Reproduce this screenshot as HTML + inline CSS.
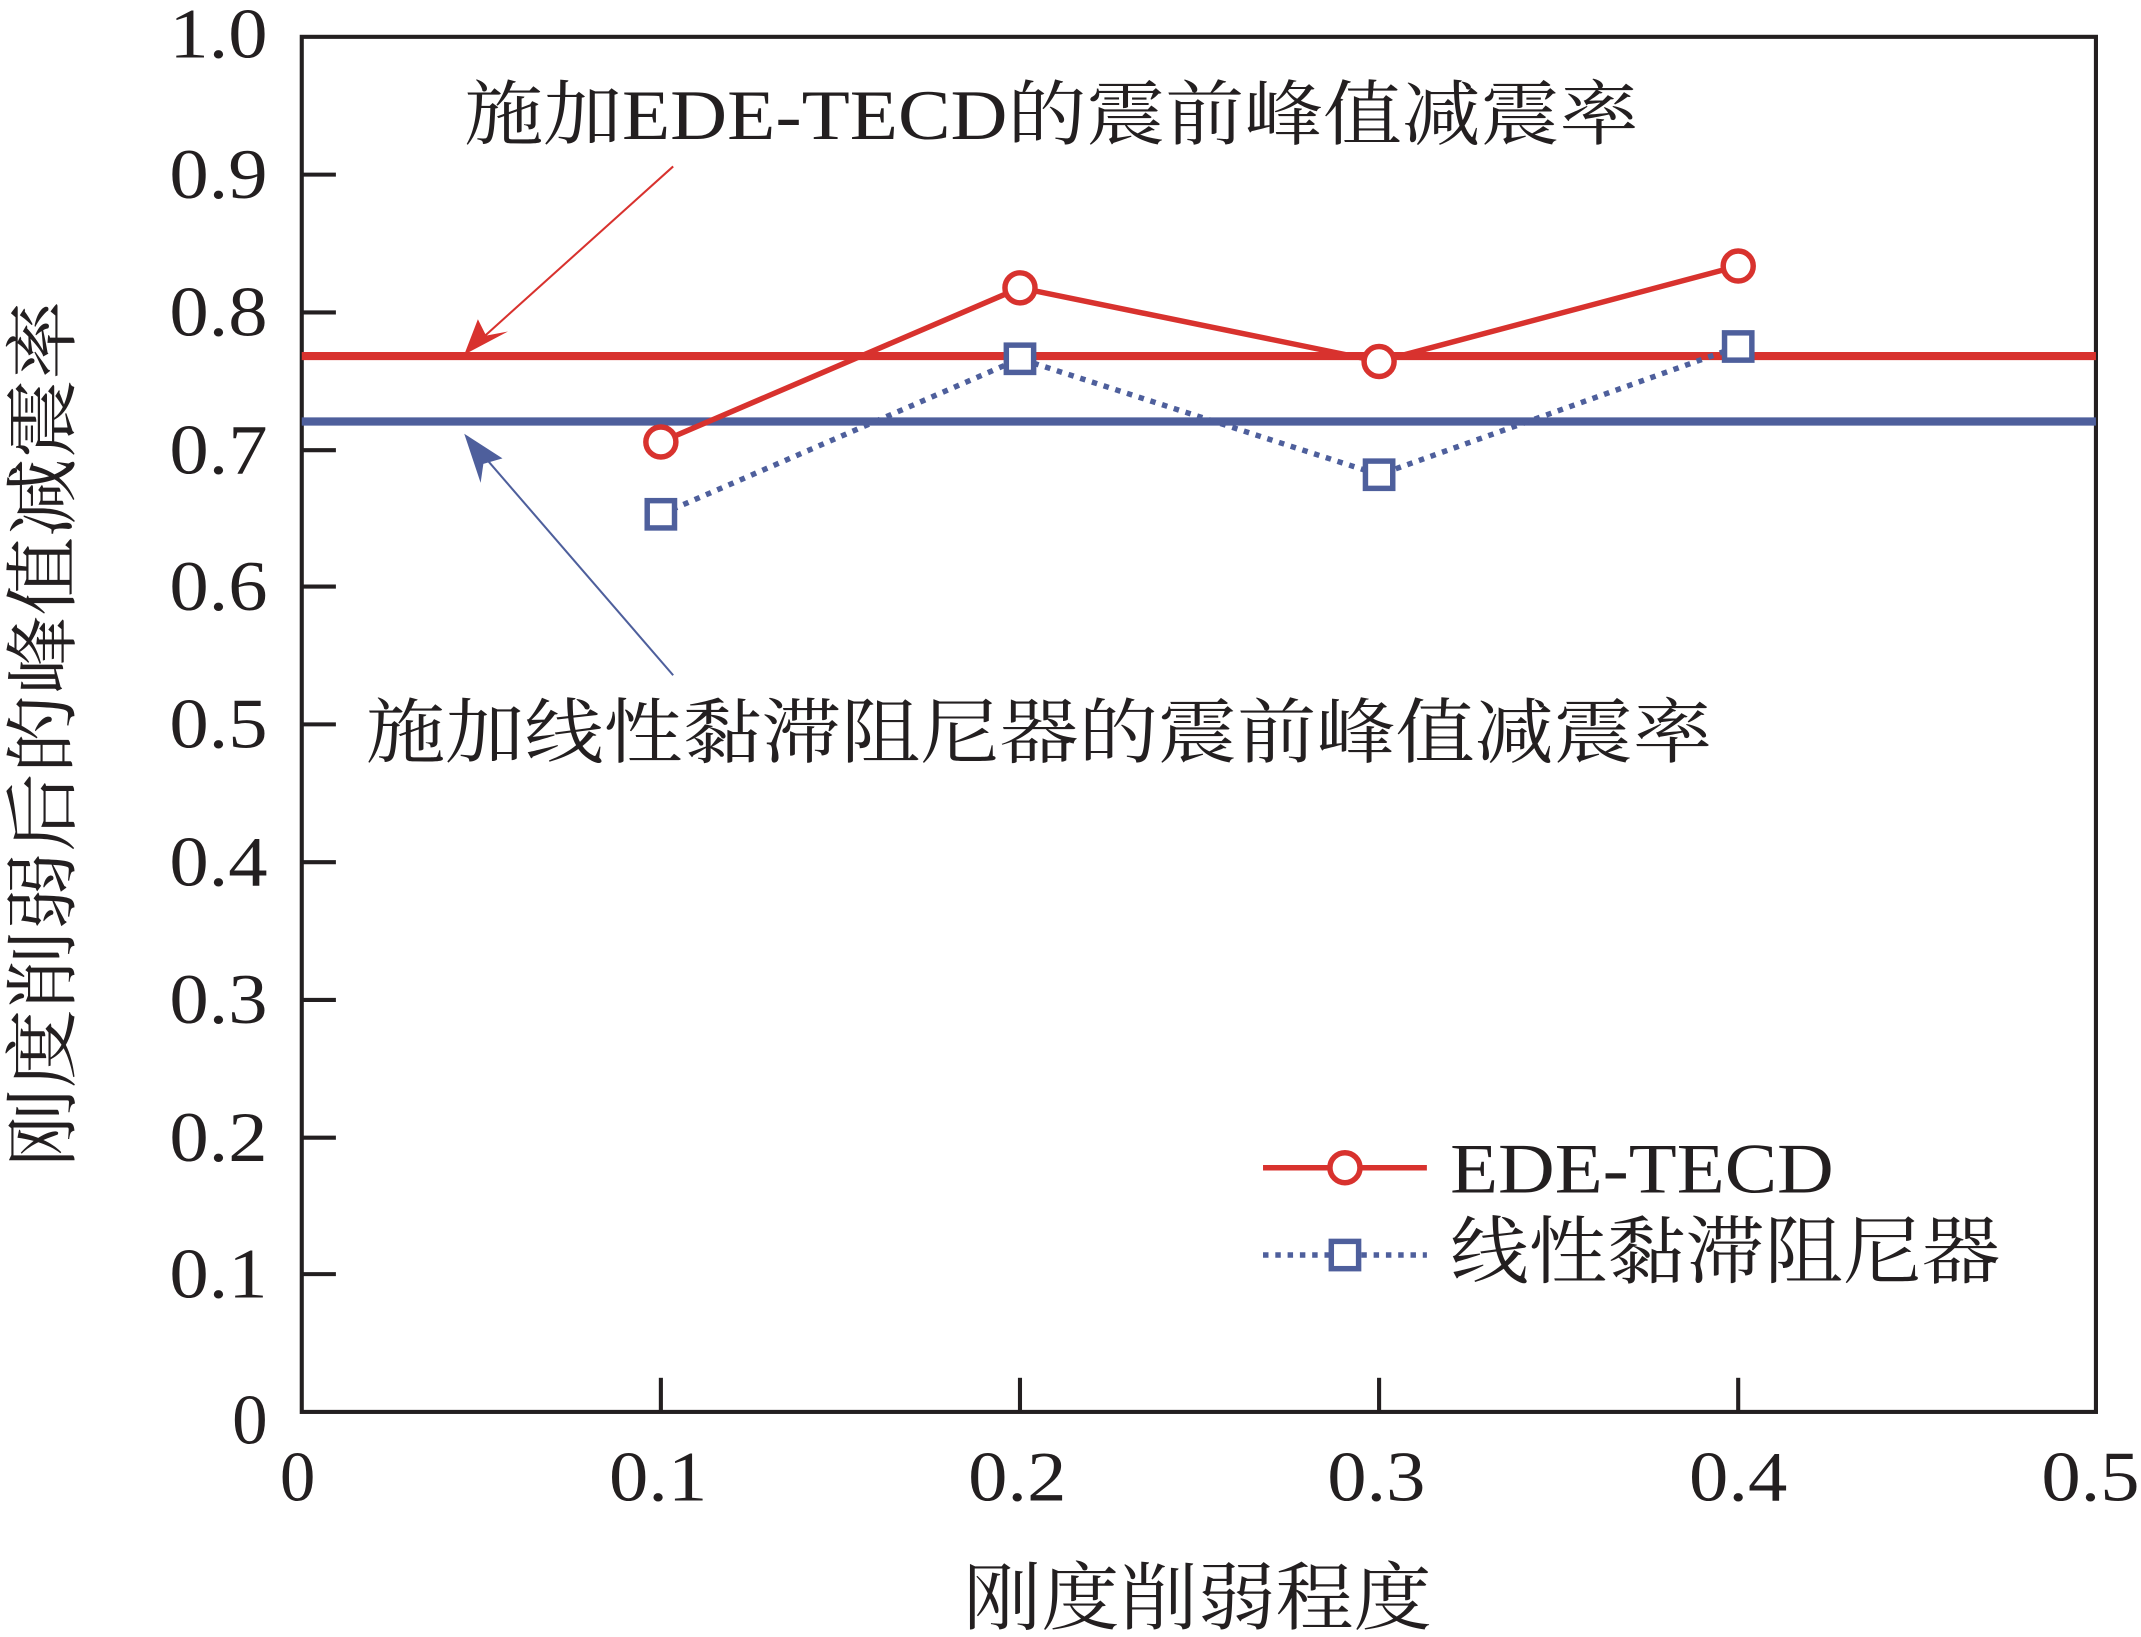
<!DOCTYPE html>
<html><head><meta charset="utf-8"><style>
html,body{margin:0;padding:0;background:#fff;}
svg{display:block;}
text{font-family:"Liberation Serif","Noto Serif CJK SC",serif;fill:#231f20;}
</style></head><body>
<svg width="2141" height="1637" viewBox="0 0 1568 1200" preserveAspectRatio="none" xmlns="http://www.w3.org/2000/svg">
<rect x="221" y="27" width="1314" height="1008" fill="none" stroke="#231f20" stroke-width="3"/>
<g stroke="#231f20" stroke-width="3">
<line x1="221" y1="128" x2="246" y2="128"/><line x1="221" y1="229" x2="246" y2="229"/><line x1="221" y1="330" x2="246" y2="330"/><line x1="221" y1="430" x2="246" y2="430"/><line x1="221" y1="531" x2="246" y2="531"/><line x1="221" y1="632" x2="246" y2="632"/><line x1="221" y1="733" x2="246" y2="733"/><line x1="221" y1="834" x2="246" y2="834"/><line x1="221" y1="934" x2="246" y2="934"/>
<line x1="484" y1="1035" x2="484" y2="1010"/><line x1="747" y1="1035" x2="747" y2="1010"/><line x1="1010" y1="1035" x2="1010" y2="1010"/><line x1="1273" y1="1035" x2="1273" y2="1010"/>
</g>
<g font-size="52" text-anchor="end">
<text x="196" y="42" textLength="72" lengthAdjust="spacingAndGlyphs">1.0</text><text x="196" y="145" textLength="72" lengthAdjust="spacingAndGlyphs">0.9</text><text x="196" y="246" textLength="72" lengthAdjust="spacingAndGlyphs">0.8</text><text x="196" y="347" textLength="72" lengthAdjust="spacingAndGlyphs">0.7</text><text x="196" y="447" textLength="72" lengthAdjust="spacingAndGlyphs">0.6</text><text x="196" y="548" textLength="72" lengthAdjust="spacingAndGlyphs">0.5</text><text x="196" y="649" textLength="72" lengthAdjust="spacingAndGlyphs">0.4</text><text x="196" y="750" textLength="72" lengthAdjust="spacingAndGlyphs">0.3</text><text x="196" y="851" textLength="72" lengthAdjust="spacingAndGlyphs">0.2</text><text x="196" y="951" textLength="72" lengthAdjust="spacingAndGlyphs">0.1</text><text x="196" y="1058">0</text>
</g>
<g font-size="52" text-anchor="middle">
<text x="218" y="1100">0</text><text x="482" y="1100" textLength="72" lengthAdjust="spacingAndGlyphs">0.1</text><text x="745" y="1100" textLength="72" lengthAdjust="spacingAndGlyphs">0.2</text><text x="1008" y="1100" textLength="72" lengthAdjust="spacingAndGlyphs">0.3</text><text x="1273" y="1100" textLength="72" lengthAdjust="spacingAndGlyphs">0.4</text><text x="1531" y="1100" textLength="72" lengthAdjust="spacingAndGlyphs">0.5</text>
</g>
<line x1="221" y1="261" x2="1535" y2="261" stroke="#d8322e" stroke-width="6"/>
<line x1="221" y1="309" x2="1535" y2="309" stroke="#4e5f9c" stroke-width="6"/>
<polyline points="484,377 747,263 1010,348 1273,254" fill="none" stroke="#4e5f9c" stroke-width="4" stroke-dasharray="4,5"/>
<g fill="#fff" stroke="#4e5f9c" stroke-width="4">
<rect x="474" y="367" width="20" height="20"/><rect x="737" y="253" width="20" height="20"/><rect x="1000" y="338" width="20" height="20"/><rect x="1263" y="244" width="20" height="20"/>
</g>
<polyline points="484,324 747,211 1010,265 1273,195" fill="none" stroke="#d8322e" stroke-width="4"/>
<g fill="#fff" stroke="#d8322e" stroke-width="4">
<circle cx="484" cy="324" r="11"/><circle cx="747" cy="211" r="11"/><circle cx="1010" cy="265" r="11"/><circle cx="1273" cy="195" r="11"/>
</g>
<line x1="493" y1="122" x2="342" y2="258" stroke="#d8322e" stroke-width="1.5"/>
<path d="M340,260 L350,234 L356,246 L372,243 z" fill="#d8322e"/>
<line x1="493" y1="495" x2="342" y2="320" stroke="#4e5f9c" stroke-width="1.5"/>
<path d="M340,318 L368,336 L354,340 L352,354 z" fill="#4e5f9c"/>
<text x="340" y="102" font-size="52" textLength="860" lengthAdjust="spacingAndGlyphs">施加EDE-TECD的震前峰值减震率</text>
<text x="268" y="555" font-size="52" textLength="986" lengthAdjust="spacingAndGlyphs">施加线性黏滞阻尼器的震前峰值减震率</text>
<line x1="925" y1="856" x2="1045" y2="856" stroke="#d8322e" stroke-width="4"/>
<circle cx="985" cy="856" r="11" fill="#fff" stroke="#d8322e" stroke-width="4"/>
<text x="1062" y="874" font-size="52" textLength="281" lengthAdjust="spacingAndGlyphs">EDE-TECD</text>
<line x1="925" y1="920" x2="1045" y2="920" stroke="#4e5f9c" stroke-width="4" stroke-dasharray="4,5"/>
<rect x="975" y="910" width="20" height="20" fill="#fff" stroke="#4e5f9c" stroke-width="4"/>
<text x="1062" y="936" font-size="54" textLength="403" lengthAdjust="spacingAndGlyphs">线性黏滞阻尼器</text>
<text transform="translate(50,538) rotate(-90)" font-size="54" text-anchor="middle" textLength="635" lengthAdjust="spacingAndGlyphs">刚度削弱后的峰值减震率</text>
<text x="877" y="1190" font-size="54" text-anchor="middle" textLength="343" lengthAdjust="spacingAndGlyphs">刚度削弱程度</text>
</svg>
</body></html>
